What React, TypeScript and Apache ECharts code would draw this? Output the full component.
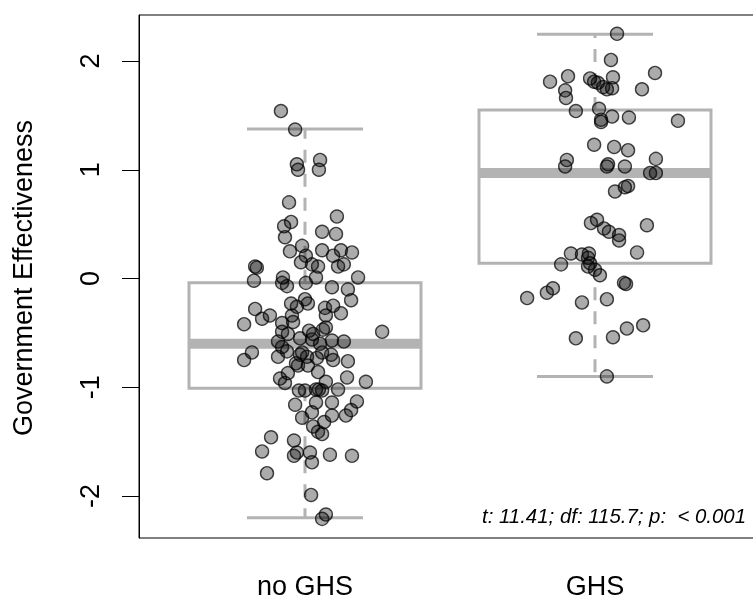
import React, { useEffect, useRef } from "react";
import * as echarts from "echarts";

const categories = ["no GHS", "GHS"];
const yTicks = [-2, -1, 0, 1, 2];
const statText = "t: 11.41; df: 115.7; p:  < 0.001";

// [lower whisker, Q1, median, Q3, upper whisker]
const boxNoGhs = [-2.2, -1.01, -0.6, -0.04, 1.375];
const boxGhs = [-0.9, 0.14, 0.97, 1.55, 2.245];

const noGhsJitter = [
  -0.083, -0.034, -0.028, -0.024, 0.052, 0.048, -0.055, 0.11, -0.048, -0.072,
  0.059, 0.107, -0.069, -0.01, -0.052, 0.003, 0.059, 0.097, 0.124, 0.162,
  -0.014, 0.024, 0.045, 0.114, 0.134, -0.172, -0.166, -0.176, -0.076, -0.079,
  -0.062, 0.003, 0.038, 0.183, 0.093, 0.148, 0.159, 0.0, 0.01, -0.048,
  -0.028, 0.069, 0.097, -0.172, -0.121, -0.148, -0.21, -0.045, 0.072, 0.124,
  -0.041, -0.079, 0.266, -0.059, -0.079, 0.014, 0.028, 0.062, 0.072, -0.017,
  0.024, -0.093, 0.093, 0.134, -0.079, -0.062, 0.052, -0.183, -0.21, -0.093,
  -0.01, -0.017, 0.007, 0.059, 0.09, 0.097, 0.148, 0.041, -0.031, -0.024,
  0.01, 0.045, -0.059, -0.086, -0.069, 0.145, 0.21, 0.072, -0.021, 0.0,
  0.038, 0.048, 0.059, 0.114, -0.034, 0.038, 0.093, 0.179, 0.159, 0.141,
  0.024, -0.01, 0.093, 0.066, 0.028, 0.045, 0.059, -0.117, -0.038, -0.148,
  -0.028, -0.038, 0.017, 0.024, 0.086, 0.162, -0.131, 0.021, 0.072, 0.059,
];
const noGhsValues = [
  1.54, 1.37, 1.05, 1.0, 1.09, 1.0, 0.7, 0.57, 0.52, 0.48,
  0.43, 0.41, 0.38, 0.3, 0.25, 0.21, 0.26, 0.21, 0.26, 0.24,
  0.15, 0.13, 0.11, 0.11, 0.13, 0.11, 0.1, -0.02, 0.01, -0.04,
  -0.07, -0.04, 0.01, 0.01, -0.08, -0.1, -0.2, -0.19, -0.23, -0.23,
  -0.26, -0.27, -0.25, -0.28, -0.34, -0.37, -0.42, -0.34, -0.34, -0.32,
  -0.4, -0.41, -0.49, -0.51, -0.49, -0.48, -0.51, -0.47, -0.45, -0.55,
  -0.56, -0.58, -0.57, -0.58, -0.63, -0.67, -0.6, -0.68, -0.75, -0.72,
  -0.68, -0.7, -0.72, -0.68, -0.7, -0.75, -0.76, -0.73, -0.78, -0.8,
  -0.8, -0.86, -0.87, -0.92, -0.96, -0.91, -0.95, -0.95, -1.03, -1.03,
  -1.02, -1.02, -1.03, -1.02, -1.16, -1.14, -1.14, -1.13, -1.21, -1.26,
  -1.23, -1.28, -1.26, -1.32, -1.36, -1.41, -1.43, -1.46, -1.49, -1.59,
  -1.6, -1.63, -1.6, -1.69, -1.62, -1.63, -1.79, -1.99, -2.17, -2.21,
];

const ghsJitter = [
  0.076, 0.055, -0.155, -0.093, -0.017, -0.003, 0.01, 0.028, 0.041, 0.059,
  0.062, 0.207, -0.103, -0.1, 0.162, -0.066, 0.014, 0.021, 0.021, 0.059,
  0.117, 0.286, -0.003, 0.066, 0.114, -0.097, -0.103, 0.045, 0.041, 0.103,
  0.21, 0.19, 0.21, 0.069, 0.103, 0.114, -0.014, 0.007, 0.031, 0.048,
  0.083, 0.083, 0.179, -0.083, -0.045, -0.021, -0.024, 0.145, -0.117, -0.017,
  -0.024, 0.0, 0.017, 0.1, 0.107, -0.145, -0.166, -0.234, -0.045, 0.041,
  0.166, 0.11, 0.062, -0.066, 0.041,
];
const ghsValues = [
  2.25, 2.01, 1.81, 1.86, 1.84, 1.81, 1.8, 1.76, 1.74, 1.75,
  1.85, 1.89, 1.73, 1.66, 1.74, 1.54, 1.56, 1.46, 1.44, 1.49,
  1.48, 1.45, 1.23, 1.21, 1.18, 1.09, 1.03, 1.05, 1.03, 1.03,
  1.1, 0.97, 0.97, 0.8, 0.84, 0.85, 0.51, 0.54, 0.46, 0.43,
  0.4, 0.35, 0.49, 0.23, 0.22, 0.23, 0.19, 0.24, 0.13, 0.14,
  0.11, 0.08, 0.03, -0.04, -0.05, -0.09, -0.13, -0.18, -0.22, -0.19,
  -0.43, -0.46, -0.54, -0.55, -0.9,
];

const FONT = "'Liberation Sans', Arial, sans-serif";
const BOX_GREY = "#b3b3b3";

export default function App() {
  const ref = useRef<HTMLDivElement>(null);

  useEffect(() => {
    const chart = echarts.init(ref.current!, null, { renderer: "svg" });

    const boxData = [
      [1, ...boxNoGhs],
      [2, ...boxGhs],
    ];
    const pointData = [
      ...noGhsValues.map((v, i) => [1 + noGhsJitter[i], v]),
      ...ghsValues.map((v, i) => [2 + ghsJitter[i], v]),
    ];

    chart.setOption({
      animation: false,
      grid: {
        left: 139,
        top: 15,
        width: 622,
        height: 523,
        show: true,
        borderColor: "#000",
        borderWidth: 1,
        backgroundColor: "transparent",
      },
      xAxis: {
        type: "value",
        min: 0.4276,
        max: 2.5724,
        splitLine: { show: false },
        axisLine: { show: false },
        axisTick: { show: false, customValues: [1, 2] },
        axisLabel: {
          customValues: [1, 2],
          formatter: (v: number) => categories[Math.round(v) - 1] ?? "",
          fontSize: 27,
          fontFamily: FONT,
          color: "#000",
          margin: 34,
        },
      },
      yAxis: {
        type: "value",
        min: -2.386,
        max: 2.423,
        splitLine: { show: false },
        axisLine: { show: true, lineStyle: { color: "#000", width: 1 } },
        axisTick: {
          show: true,
          customValues: yTicks,
          length: 17,
          lineStyle: { color: "#000", width: 1 },
        },
        axisLabel: {
          customValues: yTicks,
          rotate: 90,
          fontSize: 27,
          fontFamily: FONT,
          color: "#000",
          margin: 36,
        },
      },
      graphic: [
        {
          type: "text",
          x: 23,
          y: 278,
          rotation: Math.PI / 2,
          style: {
            text: "Government Effectiveness",
            fontSize: 27,
            fontFamily: FONT,
            fill: "#000",
            textAlign: "center",
            textVerticalAlign: "middle",
          },
        },
        {
          type: "text",
          x: 746,
          y: 516,
          style: {
            text: statText,
            fontSize: 20.4,
            fontStyle: "italic",
            fontFamily: FONT,
            fill: "#000",
            textAlign: "right",
            textVerticalAlign: "middle",
          },
        },
      ],
      series: [
        {
          type: "custom",
          z: 2,
          data: boxData,
          encode: { x: 0, y: [1, 2, 3, 4, 5] },
          renderItem: (params: any, api: any) => {
            const x = api.value(0);
            const cy = (v: number) => api.coord([x, v])[1];
            const cx = (dx: number) => api.coord([x + dx, 0])[0];
            const yMin = cy(api.value(1));
            const yQ1 = cy(api.value(2));
            const yMed = cy(api.value(3));
            const yQ3 = cy(api.value(4));
            const yMax = cy(api.value(5));
            const xc = cx(0);
            const xl = cx(-0.4);
            const xr = cx(0.4);
            const cl = cx(-0.2);
            const cr = cx(0.2);
            const lineStyle = { stroke: BOX_GREY, lineWidth: 3 };
            return {
              type: "group",
              children: [
                {
                  type: "line",
                  shape: { x1: xc, y1: yQ3, x2: xc, y2: yMax },
                  style: { ...lineStyle, lineDash: [13, 11] },
                },
                {
                  type: "line",
                  shape: { x1: xc, y1: yQ1, x2: xc, y2: yMin },
                  style: { ...lineStyle, lineDash: [13, 11] },
                },
                {
                  type: "line",
                  shape: { x1: cl, y1: yMax, x2: cr, y2: yMax },
                  style: lineStyle,
                },
                {
                  type: "line",
                  shape: { x1: cl, y1: yMin, x2: cr, y2: yMin },
                  style: lineStyle,
                },
                {
                  type: "rect",
                  shape: { x: xl, y: yQ3, width: xr - xl, height: yQ1 - yQ3 },
                  style: { ...lineStyle, fill: "none" },
                },
                {
                  type: "line",
                  shape: { x1: xl, y1: yMed, x2: xr, y2: yMed },
                  style: { stroke: BOX_GREY, lineWidth: 10 },
                },
              ],
            };
          },
        },
        {
          type: "scatter",
          z: 3,
          data: pointData,
          symbol: "circle",
          symbolSize: 13,
          itemStyle: {
            color: "rgba(0,0,0,0.33)",
            borderColor: "rgba(0,0,0,0.72)",
            borderWidth: 1.4,
            opacity: 1,
          },
          emphasis: { disabled: true },
        },
      ],
    });

    return () => chart.dispose();
  }, []);

  return (
    <div
      style={{
        position: "fixed",
        left: 0,
        top: 0,
        width: 753,
        height: 599,
        overflow: "hidden",
      }}
    >
      <div ref={ref} style={{ width: 775, height: 599 }} />
    </div>
  );
}
